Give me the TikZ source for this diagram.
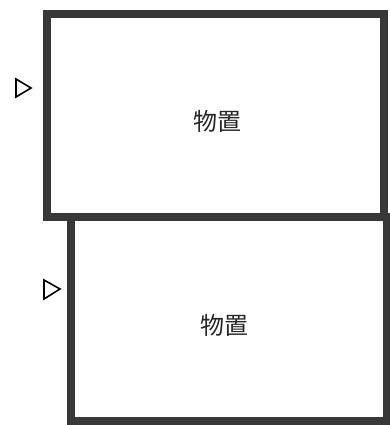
\documentclass[tikz,border=0pt]{standalone}
\usepackage{fontspec}
\newfontfamily\cjk{Noto Sans CJK JP}
\begin{document}
\begin{tikzpicture}[x=1pt,y=-1pt,
  wall/.style={draw=black!78, line width=8pt, line join=miter},
  marker/.style={draw=black, line width=1.6pt, line join=miter},
  label/.style={font=\cjk\fontsize{24}{28}\selectfont, text=black!85}]
\useasboundingbox (0,0) rectangle (390,425);
% two sheds
\draw[wall] (46.5,14) rectangle (384,217);
\draw[wall] (71,217) rectangle (386.5,421);
\node[label] (shedA) at (217,121) {物置};
\node[label] (shedB) at (224,325) {物置};
% markers
\draw[marker] (16,79) -- (31,88) -- (16,97) -- cycle;
\draw[marker] (44,280) -- (60,289) -- (44,299) -- cycle;
\end{tikzpicture}
\end{document}
